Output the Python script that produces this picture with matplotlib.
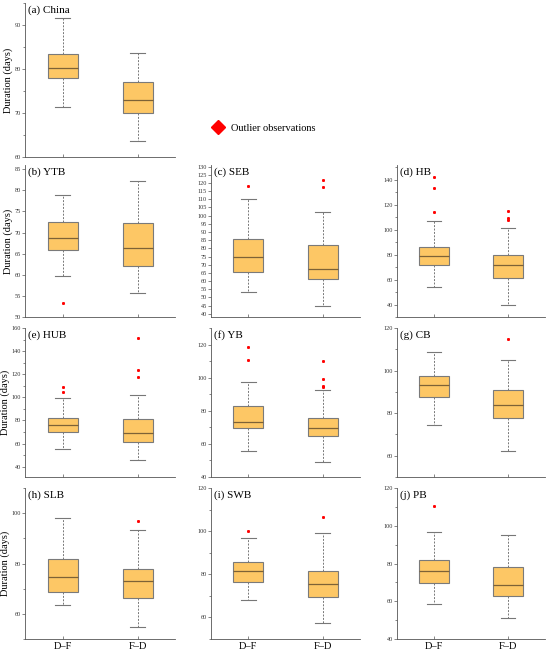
import matplotlib
matplotlib.use("Agg")
import matplotlib.pyplot as plt
from matplotlib.lines import Line2D
from matplotlib.ticker import MultipleLocator

plt.rcParams['font.family'] = ['Liberation Serif', 'DejaVu Serif']

panels = ['(a) China', '(b) YTB', '(c) SEB', '(d) HB', '(e) HUB',
          '(f) YB', '(g) CB', '(h) SLB', '(i) SWB', '(j) PB']
groups = ['D\u2013F', 'F\u2013D']

# box statistics per panel: [D-F, F-D]
whislo = [[71.4, 63.6], [59.7, 55.6], [53.4, 44.5], [54.4, 39.5], [55.0, 46.0],
          [55.6, 49.0], [74.5, 62.2], [63.4, 54.9], [68.1, 57.2], [58.6, 50.9]]
q1 = [[77.9, 70.1], [65.8, 62.1], [65.7, 61.4], [72.0, 61.6], [69.8, 61.4],
      [69.4, 64.6], [87.5, 77.7], [68.6, 66.2], [76.4, 69.4], [69.7, 63.0]]
med = [[80.2, 73.0], [68.6, 66.4], [74.6, 67.5], [79.0, 71.7], [76.2, 68.7],
       [73.4, 69.6], [93.0, 84.0], [74.6, 73.0], [81.7, 75.5], [76.1, 68.7]]
q3 = [[83.4, 77.0], [72.5, 72.2], [85.6, 82.0], [86.1, 80.0], [82.0, 81.2],
      [82.6, 75.8], [97.5, 91.0], [81.9, 77.9], [85.6, 81.4], [82.0, 77.9]]
whishi = [[91.5, 83.7], [79.0, 82.1], [110.0, 102.3], [107.0, 101.3], [99.5, 102.4],
          [97.4, 92.8], [108.9, 105.0], [98.0, 93.4], [96.9, 99.0], [96.7, 95.1]]
outliers = [
    [[], []],
    [[53.4], []],
    [[118.0], [121.6, 117.5]],
    [[142.1, 133.6, 113.9], [114.7, 109.3, 108.2]],
    [[109.1, 104.4], [151.3, 123.4, 117.3]],
    [[118.6, 110.4], [110.2, 99.2, 95.2, 94.4]],
    [[], [114.7]],
    [[], [96.8]],
    [[100.2], [106.6]],
    [[110.6], []],
]

ylims = [(60, 95), (50, 86), (38, 131), (30, 152), (31, 160),
         (40, 130), (50, 120), (50, 110), (50, 120), (40, 120)]
ysteps = [(10, 5), (5, None), (5, None), (20, 10), (20, 10),
          (20, 10), (20, 10), (20, 10), (20, 10), (20, 10)]

# axes boxes in pixels: left, top, right, bottom
W, H = 550, 654
cols = [(25, 175), (211, 360), (397, 545)]
rows = [(3, 157), (165, 317), (328, 477), (488, 639)]
cells = [(0, 0), (1, 0), (1, 1), (1, 2), (2, 0), (2, 1), (2, 2), (3, 0), (3, 1), (3, 2)]

fig = plt.figure(figsize=(W / 100, H / 100), dpi=100)

for i, name in enumerate(panels):
    r, c = cells[i]
    x0, x1 = cols[c]
    y0, y1 = rows[r]
    ax = fig.add_axes([x0 / W, 1 - y1 / H, (x1 - x0) / W, (y1 - y0) / H])
    stats = []
    for j in range(2):
        stats.append(dict(whislo=whislo[i][j], q1=q1[i][j], med=med[i][j],
                          q3=q3[i][j], whishi=whishi[i][j], fliers=outliers[i][j]))
    ax.bxp(stats, positions=[1, 2], widths=0.4, capwidths=0.2, patch_artist=True,
           showfliers=True,
           boxprops=dict(facecolor='#fdc765', edgecolor='#7a7a7a', linewidth=0.8),
           medianprops=dict(color='#7d6236', linewidth=0.9),
           whiskerprops=dict(color='#777777', linewidth=0.7, linestyle=(0, (2, 1.5))),
           capprops=dict(color='#777777', linewidth=0.8),
           flierprops=dict(marker='s', markersize=1.1, markerfacecolor='red',
                           markeredgecolor='red', linestyle='none'))
    ax.set_xlim(0.5, 2.5)
    ax.set_ylim(*ylims[i])
    major, minor = ysteps[i]
    ax.yaxis.set_major_locator(MultipleLocator(major))
    if minor:
        ax.yaxis.set_minor_locator(MultipleLocator(minor))
    for s in ['top', 'right']:
        ax.spines[s].set_visible(False)
    for s in ['left', 'bottom']:
        ax.spines[s].set_color('#555555')
        ax.spines[s].set_linewidth(0.6)
    ax.tick_params(axis='y', which='both', direction='out', labelsize=4.5,
                   colors='#555555', labelcolor='#333333', width=0.5, pad=1)
    ax.tick_params(axis='y', which='major', length=2)
    ax.tick_params(axis='y', which='minor', length=1.2)
    ax.tick_params(axis='x', direction='in', length=2, width=0.5, colors='#555555',
                   labelcolor='black', labelsize=7.5, pad=2)
    ax.set_xticks([1, 2])
    if r == 3:
        ax.set_xticklabels(groups)
    else:
        ax.set_xticklabels([])
    if c == 0:
        ax.set_ylabel('Duration (days)', fontsize=7.5, labelpad=1)
    ax.text(0.02, 0.985, name, transform=ax.transAxes, ha='left', va='top', fontsize=8)

handle = Line2D([], [], marker='D', color='red', linestyle='none', markersize=7)
fig.legend(handles=[handle], labels=['Outlier observations'], loc='center left',
           bbox_to_anchor=(203 / W, 1 - 128 / H), frameon=False, fontsize=7.5,
           handletextpad=0.3, borderaxespad=0)

fig.savefig('out.png', dpi=100)
